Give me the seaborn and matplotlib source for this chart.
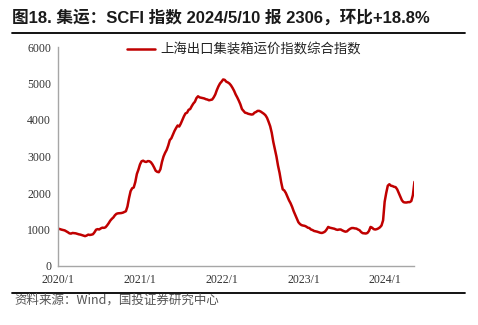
import matplotlib
matplotlib.use("Agg")
import matplotlib.pyplot as plt
from matplotlib.lines import Line2D
import pandas as pd
import seaborn as sns

# SCFI composite index, weekly (Fridays), 2020-01-03 .. 2024-05-10
scfi_2020 = [1023, 1009, 996, 985, 975,
             950, 925, 895, 888,
             905, 900, 895, 880,
             868, 860, 845, 830,
             818, 835, 860, 850, 858,
             870, 925, 995, 1010,
             1000, 1030, 1050, 1045, 1060,
             1110, 1170, 1240, 1290,
             1330, 1390, 1430, 1443,
             1445, 1450, 1460, 1480, 1500,
             1630, 1860, 2050, 2130,
             2150, 2300, 2520, 2640]
scfi_2021 = [2783, 2870, 2885, 2860, 2850,
             2875, 2870, 2840, 2780,
             2700, 2610, 2580, 2570,
             2650, 2850, 3000, 3100, 3180,
             3300, 3450, 3500, 3600,
             3700, 3780, 3850, 3820,
             3900, 4000, 4100, 4180, 4200,
             4280, 4300, 4380, 4450,
             4500, 4600, 4650, 4620,
             4610, 4600, 4590, 4570, 4560,
             4540, 4550, 4560, 4620,
             4700, 4820, 4920, 5000, 5050]
scfi_2022 = [5110, 5100, 5050, 5030,
             5000, 4950, 4880, 4800,
             4700, 4620, 4530, 4430,
             4300, 4250, 4200, 4190, 4170,
             4160, 4150, 4155, 4200,
             4220, 4250, 4250, 4230,
             4200, 4170, 4130, 4060, 3950,
             3830, 3650, 3400, 3200,
             3000, 2750, 2550, 2300, 2100,
             2070, 2000, 1900, 1800,
             1720, 1620, 1500, 1400,
             1300, 1200, 1150, 1120, 1108]
scfi_2023 = [1100, 1080, 1050, 1040,
             1000, 985, 960, 950,
             940, 925, 910, 905, 920,
             945, 1000, 1070, 1050,
             1040, 1030, 1020, 1000,
             990, 1000, 1000, 975, 955,
             940, 950, 990, 1020,
             1040, 1040, 1030, 1025,
             1000, 980, 930, 900, 895,
             890, 905, 960, 1070,
             1050, 1010, 1000, 1010,
             1030, 1060, 1110, 1250, 1760]
scfi_2024 = [2000, 2200, 2240, 2200,
             2190, 2170, 2160, 2100,
             2000, 1900, 1800, 1750, 1740,
             1740, 1750, 1750, 1780,
             1940, 2306]

values = scfi_2020 + scfi_2021 + scfi_2022 + scfi_2023 + scfi_2024
dates = pd.date_range("2020-01-03", periods=len(values), freq="W-FRI")

series_name = "上海出口集装箱运价指数综合指数"
title_text = "图18. 集运：SCFI 指数 2024/5/10 报 2306，环比+18.8%"
source_text = "资料来源：Wind，国投证券研究中心"
x_tick_years = [2020, 2021, 2022, 2023, 2024]
x_tick_labels = ["2020/1", "2021/1", "2022/1", "2023/1", "2024/1"]
y_ticks = [0, 1000, 2000, 3000, 4000, 5000, 6000]

df = pd.DataFrame({"date": dates, "value": values, "series": series_name})

sns.set_style("white")
plt.rcParams["font.family"] = ["Liberation Serif", "Noto Sans CJK SC"]

fig = plt.figure(figsize=(4.78, 3.25), dpi=100)
ax = fig.add_axes([58 / 478, 1 - 266 / 325, (414 - 58) / 478, (266 - 47) / 325])

sns.lineplot(data=df, x="date", y="value", hue="series",
             palette=["#C00000"], linewidth=1.8, ax=ax)

ax.set_xlim(pd.Timestamp("2020-01-01"), pd.Timestamp("2024-05-08"))
ax.set_ylim(0, 6000)
ax.set_yticks(y_ticks)
ax.set_yticklabels([str(v) for v in y_ticks])
ax.set_xticks([pd.Timestamp(f"{y}-01-01") for y in x_tick_years])
ax.set_xticklabels(x_tick_labels)
ax.set_xlabel("")
ax.set_ylabel("")

for side in ["top", "right"]:
    ax.spines[side].set_visible(False)
for side in ["left", "bottom"]:
    ax.spines[side].set_color("#A6A6A6")
    ax.spines[side].set_linewidth(1.0)
ax.tick_params(axis="both", which="both", direction="out", length=3,
               width=1.0, color="#A6A6A6", labelsize=8.5, labelcolor="#333333",
               pad=2)
ax.tick_params(axis="x", pad=3)

leg = ax.legend(loc="center left", bbox_to_anchor=((127 - 58) / 356, (266 - 50) / 219),
                frameon=False, handlelength=2.1, handletextpad=0.4,
                borderpad=0, borderaxespad=0,
                prop={"family": ["Noto Sans CJK SC"], "size": 9.6})
for t in leg.get_texts():
    t.set_color("#222222")

fig.text(12 / 478, 1 - 17 / 325, title_text, ha="left", va="center",
         fontsize=12, fontweight="bold", color="#1a1a1a",
         family=["Liberation Sans", "Noto Sans CJK SC"])
fig.add_artist(Line2D([12 / 478, 465 / 478], [1 - 33 / 325] * 2,
                      color="black", linewidth=1.3))
fig.add_artist(Line2D([12 / 478, 465 / 478], [1 - 293 / 325] * 2,
                      color="black", linewidth=1.3))
fig.text(14 / 478, 1 - 300 / 325, source_text, ha="left", va="center",
         fontsize=9, style="italic", color="#555555",
         family=["Noto Sans CJK SC"])

fig.savefig("out.png", dpi=100)
